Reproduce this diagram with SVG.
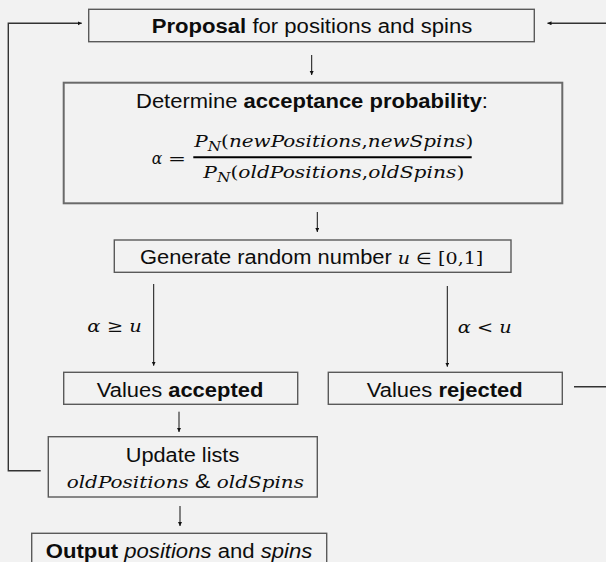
<svg xmlns="http://www.w3.org/2000/svg" width="606" height="562" viewBox="0 0 606 562">
<style>
.box{fill:#f2f2f2;stroke:#5a5a5a;stroke-width:1.4}
.t{font-family:"Liberation Sans",Arial,sans-serif;font-size:19.5px;fill:#0d0d0d}
.b{font-weight:bold}
.m{font-family:"DejaVu Serif","Liberation Serif",serif;font-style:italic;font-size:17px;fill:#0d0d0d}
.u{font-style:normal}
.c{fill:none;stroke:#111;stroke-width:1}
.loop{fill:none;stroke:#333;stroke-width:1.4}
</style>
<defs>
<marker id="ah" markerUnits="userSpaceOnUse" markerWidth="6" markerHeight="6" refX="4" refY="2" orient="auto">
<path d="M0,0 L4,2 L0,4 Z" fill="#111"/>
</marker>
</defs>
<rect width="606" height="562" fill="#f2f2f2"/>
<g id="connectors">
<path class="loop" d="M40.7,470.7 H8.3 V23.3 H81.7" marker-end="url(#ah)"/>
<path class="loop" d="M574,386.7 H612 V23.3 H547.5" marker-end="url(#ah)"/>
<path class="c" d="M311.7,55 V75" marker-end="url(#ah)"/>
<path class="c" d="M317.3,212 V232" marker-end="url(#ah)"/>
<path class="c" d="M153.7,284 V365.7" marker-end="url(#ah)"/>
<path class="c" d="M447.3,286 V366.7" marker-end="url(#ah)"/>
<path class="c" d="M179,411.7 V432" marker-end="url(#ah)"/>
<path class="c" d="M180,506 V526" marker-end="url(#ah)"/>
<text class="m" x="87.3" y="332" font-size="18" textLength="54.4" lengthAdjust="spacingAndGlyphs">α <tspan class="u">≥</tspan> u</text>
<text class="m" x="457.7" y="333" font-size="18" textLength="54" lengthAdjust="spacingAndGlyphs">α <tspan class="u">&lt;</tspan> u</text>
</g>
<g id="proposal">
<rect class="box" x="88.7" y="9.3" width="445.6" height="32.4"/>
<text class="t" x="151.7" y="33" textLength="320.6" lengthAdjust="spacingAndGlyphs"><tspan class="b">Proposal</tspan> for positions and spins</text>
</g>
<g id="acceptance">
<rect class="box" x="63.7" y="82.7" width="498.6" height="120.6" style="stroke:#6a6a6a;stroke-width:2"/>
<text class="t" x="136" y="107.7" textLength="352" lengthAdjust="spacingAndGlyphs">Determine <tspan class="b">acceptance probability</tspan>:</text>
<text class="m" x="151.7" y="163.5" font-size="19" textLength="10.5" lengthAdjust="spacingAndGlyphs">α</text>
<text class="m u" x="168" y="164" font-size="20" textLength="18" lengthAdjust="spacingAndGlyphs">=</text>
<text class="m" x="194.3" y="147" textLength="279" lengthAdjust="spacingAndGlyphs">P<tspan font-size="13" dy="3.5">N</tspan><tspan class="u" dy="-3.5">(</tspan>newPositions<tspan class="u">,</tspan>newSpins<tspan class="u">)</tspan></text>
<line x1="193.3" y1="157.3" x2="471.7" y2="157.3" stroke="#000" stroke-width="2"/>
<text class="m" x="203.3" y="178" textLength="261" lengthAdjust="spacingAndGlyphs">P<tspan font-size="13" dy="3.5">N</tspan><tspan class="u" dy="-3.5">(</tspan>oldPositions<tspan class="u">,</tspan>oldSpins<tspan class="u">)</tspan></text>
</g>
<g id="generate">
<rect class="box" x="114.3" y="240" width="396.7" height="32.3"/>
<text class="t" x="140" y="264" textLength="343.3" lengthAdjust="spacingAndGlyphs">Generate random number <tspan class="m">u</tspan> <tspan font-size="16">∈</tspan> <tspan class="m u">[0,1]</tspan></text>
</g>
<g id="accepted">
<rect class="box" x="63.7" y="372.3" width="234" height="32"/>
<text class="t" x="96.7" y="397.3" textLength="166.6" lengthAdjust="spacingAndGlyphs">Values <tspan class="b">accepted</tspan></text>
</g>
<g id="rejected">
<rect class="box" x="328.3" y="372.3" width="234" height="32"/>
<text class="t" x="366.7" y="397.3" textLength="156" lengthAdjust="spacingAndGlyphs">Values <tspan class="b">rejected</tspan></text>
</g>
<g id="update">
<rect class="box" x="48.3" y="436.7" width="269" height="60.3"/>
<text class="t" x="125.7" y="461.7" textLength="113.6" lengthAdjust="spacingAndGlyphs">Update lists</text>
<text class="m" x="66.7" y="488.3" textLength="237.3" lengthAdjust="spacingAndGlyphs">oldPositions <tspan class="t" style="font-style:normal">&amp;</tspan> oldSpins</text>
</g>
<g id="output">
<rect class="box" x="31.7" y="533.3" width="295" height="40"/>
<text class="t" x="45.7" y="557.5" textLength="266.6" lengthAdjust="spacingAndGlyphs"><tspan class="b">Output</tspan> <tspan font-style="italic">positions</tspan> and <tspan font-style="italic">spins</tspan></text>
</g>
</svg>
